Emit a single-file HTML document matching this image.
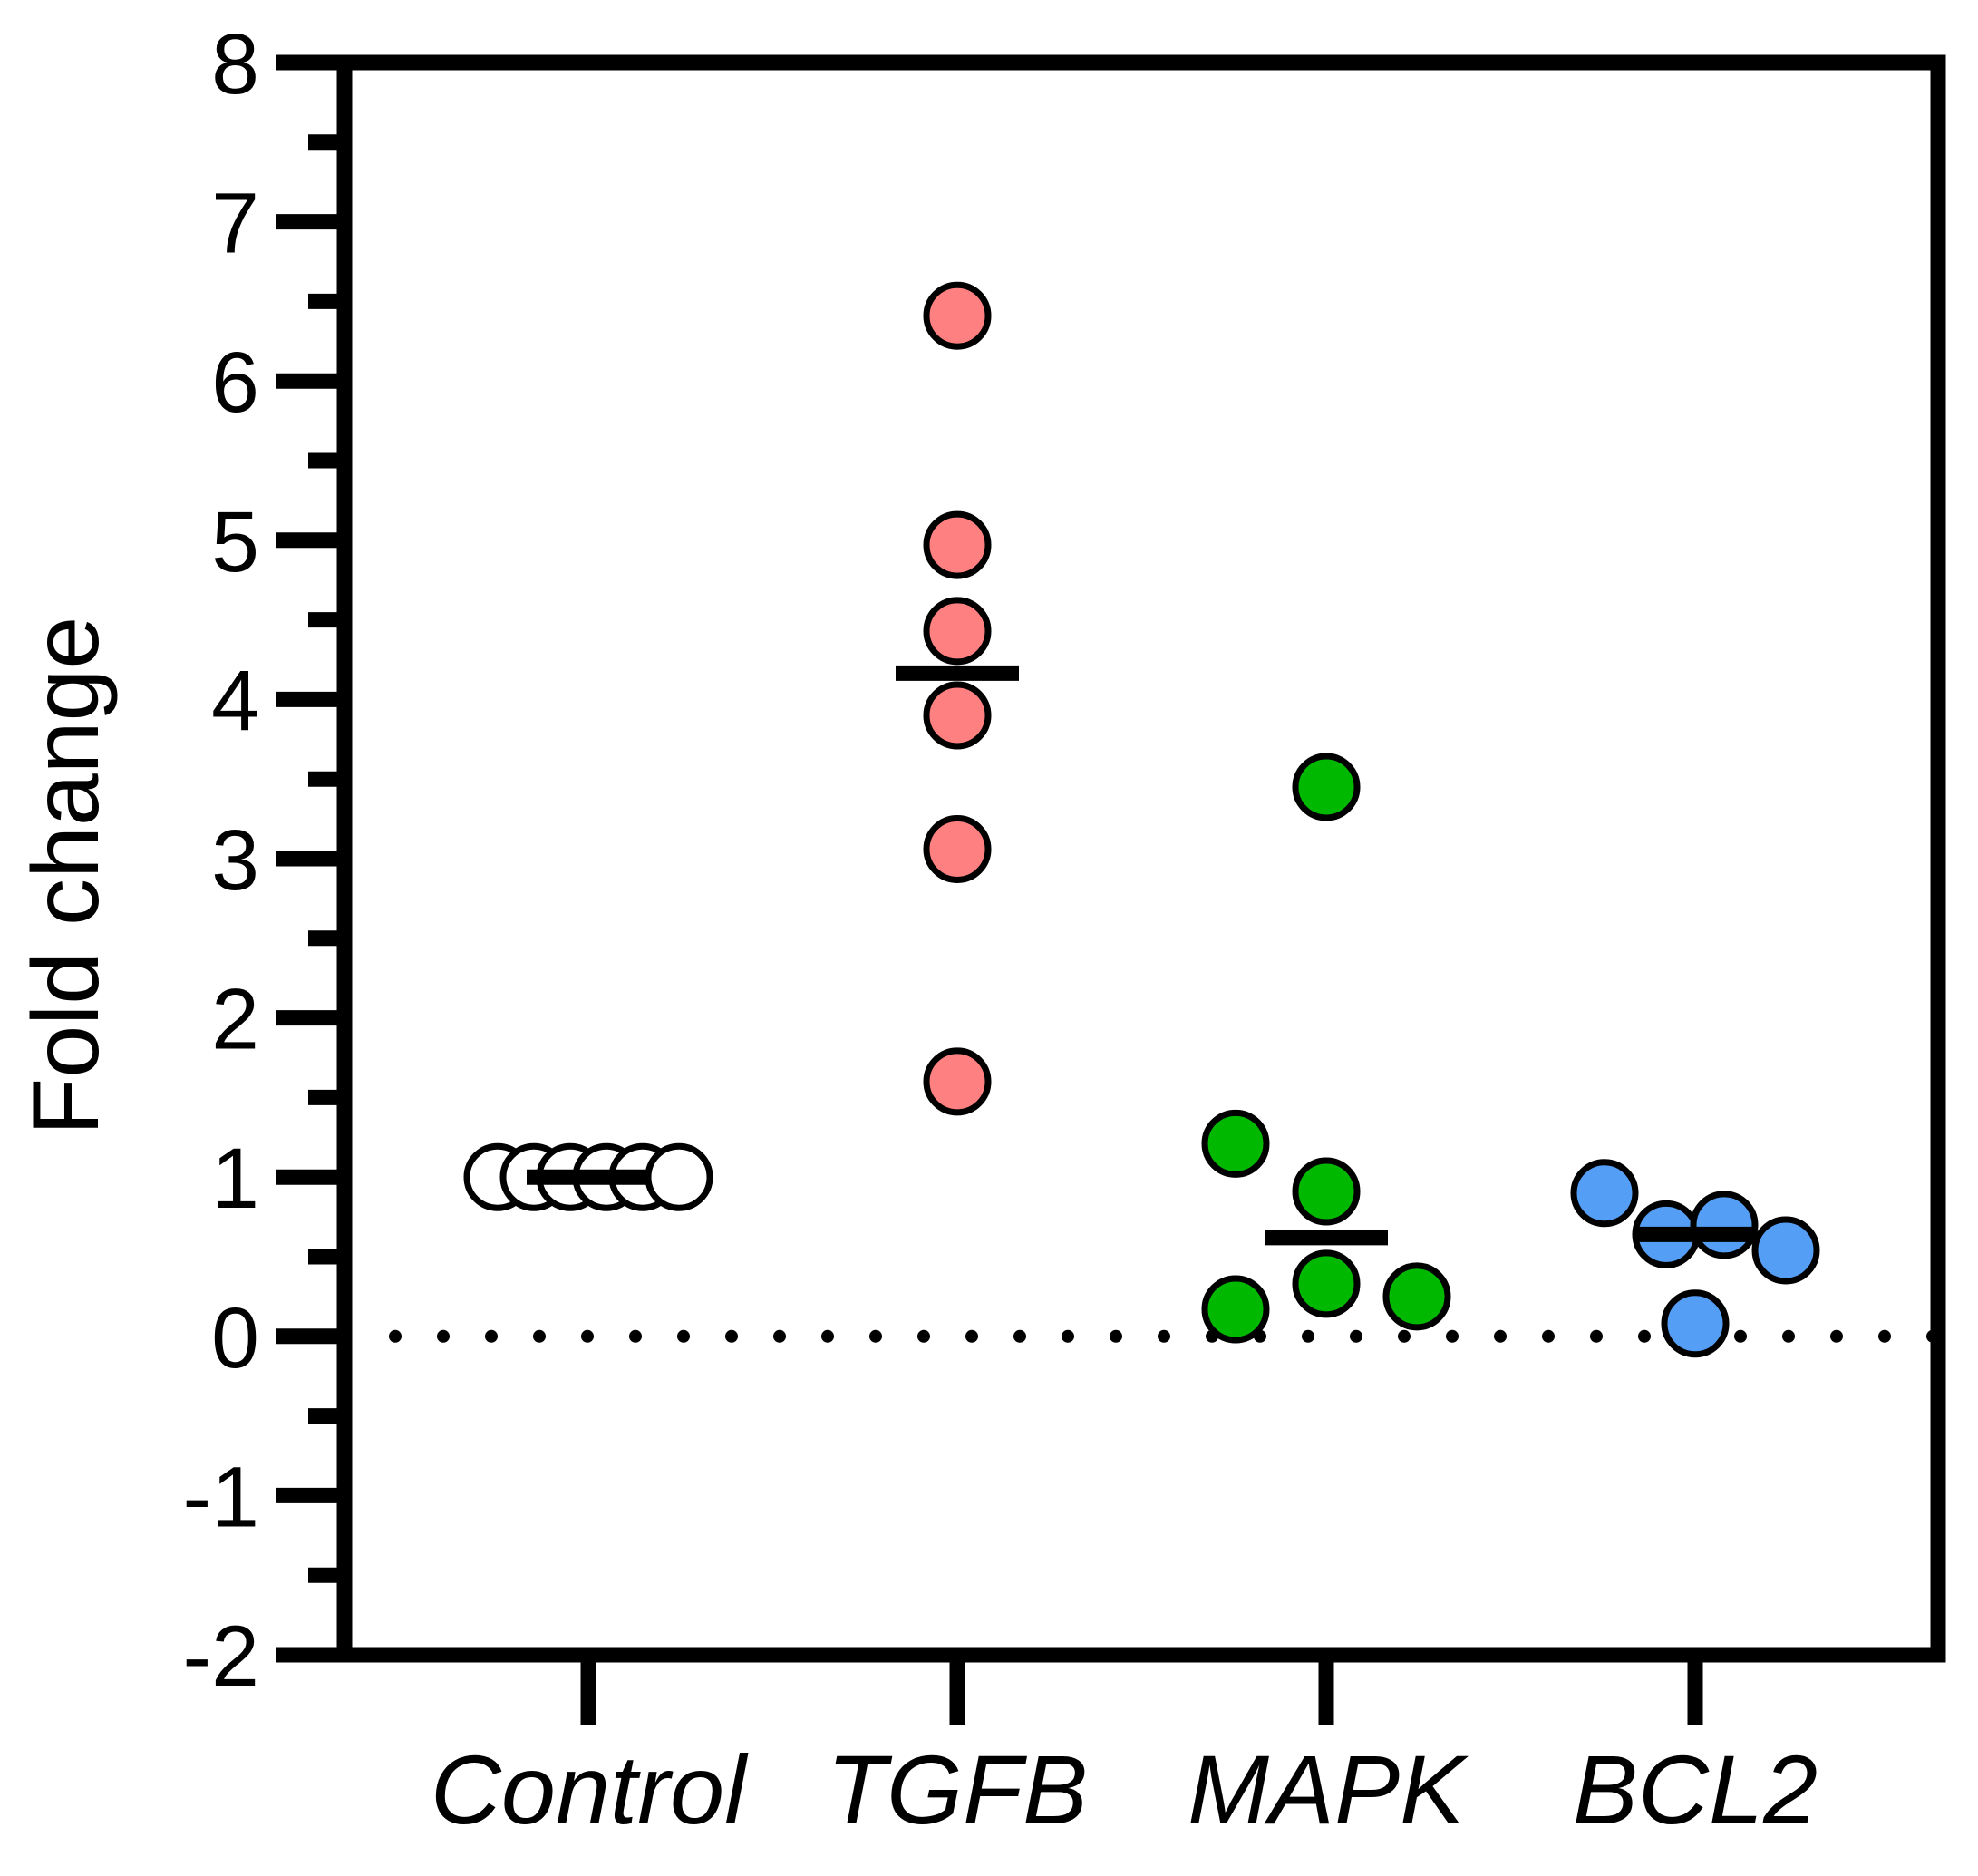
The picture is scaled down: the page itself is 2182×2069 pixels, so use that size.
<!DOCTYPE html>
<html><head><meta charset="utf-8"><style>
html,body{margin:0;padding:0;background:#fff;}
svg{display:block;font-family:"Liberation Sans",Arial,sans-serif;}
</style></head><body>
<svg id="chart" width="2182" height="2069" viewBox="0 0 2182 2069" xmlns="http://www.w3.org/2000/svg">
<g id="axes"></g>
<g id="marks"></g>
<text transform="translate(108,966) rotate(-90)" text-anchor="middle" font-size="104">Fold change</text>
</svg>
<script>
const categories = ["Control", "TGFB", "MAPK", "BCL2"];
const controlValues = [1, 1, 1, 1, 1, 1];
const tgfbValues = [6.41, 4.97, 4.43, 3.90, 3.06, 1.60];
const mapkValues = [3.45, 1.21, 0.91, 0.33, 0.17, 0.25];
const bcl2Values = [0.90, 0.64, 0.70, 0.54, 0.08];
const controlSlots = [-2.5, -1.5, -0.5, 0.5, 1.5, 2.5];
const tgfbSlots = [0, 0, 0, 0, 0, 0];
const mapkSlots = [0, -2.5, 0, 0, -2.5, 2.5];
const bcl2Slots = [-2.5, -0.8, 0.8, 2.5, 0];
const yTicks = [-2, -1, 0, 1, 2, 3, 4, 5, 6, 7, 8];
const fills = ["#ffffff", "#ff8080", "#00b800", "#559ef5"];

const NS = "http://www.w3.org/2000/svg";
const x0 = 380, x1 = 2138, yTop = 69, yBot = 1825, yMin = -2, yMax = 8;
const catX0 = 649, catStep = 407, slotW = 40;
function yScale(v){ return yBot - (v - yMin) / (yMax - yMin) * (yBot - yTop); }
function xScale(i){ return catX0 + i * catStep; }
function mk(tag, attrs, parent){ const e = document.createElementNS(NS, tag); for (const k in attrs) e.setAttribute(k, attrs[k]); parent.appendChild(e); return e; }
function median(a){ const s = a.slice().sort((p,q)=>p-q); const n = s.length; return n % 2 ? s[(n-1)/2] : (s[n/2-1] + s[n/2]) / 2; }

const axes = document.getElementById('axes');
const marks = document.getElementById('marks');

const frame = mk('rect', {x: x0, y: yTop, width: x1 - x0, height: yBot - yTop, fill: 'none', stroke: '#000', 'stroke-width': 17}, axes);



yTicks.forEach(v => {
  const y = yScale(v);
  const t = mk('line', {x1: 304, x2: x0, y1: y, y2: y, stroke: '#000', 'stroke-width': 17}, axes);
  
  
  const lb = mk('text', {x: 286, y: y + 34, 'text-anchor': 'end', 'font-size': 95}, axes);
  lb.textContent = String(v);
  
  
  if (v < yMax) {
    const ym = yScale(v + 0.5);
    const m = mk('line', {x1: 340, x2: x0, y1: ym, y2: ym, stroke: '#000', 'stroke-width': 17}, axes);
    
    
  }
});

categories.forEach((c, i) => {
  const x = xScale(i);
  const t = mk('line', {x1: x, x2: x, y1: yBot, y2: 1902, stroke: '#000', 'stroke-width': 17}, axes);
  
  
  const lb = mk('text', {x: x, y: 2011, 'text-anchor': 'middle', 'font-size': 108, 'font-style': 'italic'}, axes);
  lb.textContent = c;
  
  
});

const zl = mk('line', {x1: 436, x2: 2135, y1: yScale(0), y2: yScale(0), stroke: '#000', 'stroke-width': 14, 'stroke-linecap': 'round', 'stroke-dasharray': '0 53'}, axes);



const groups = [[controlValues, controlSlots], [tgfbValues, tgfbSlots], [mapkValues, mapkSlots], [bcl2Values, bcl2Slots]];
groups.forEach((g, i) => {
  const vals = g[0], slots = g[1];
  vals.forEach((v, j) => {
    const c = mk('circle', {cx: xScale(i) + slots[j] * slotW, cy: yScale(v), r: 34, fill: fills[i], stroke: '#000', 'stroke-width': 7}, marks);
    
    
  });
});
groups.forEach((g, i) => {
  const y = yScale(median(g[0]));
  const l = mk('line', {x1: xScale(i) - 68, x2: xScale(i) + 68, y1: y, y2: y, stroke: '#000', 'stroke-width': 17}, marks);
  
  
});
</script>
</body></html>
